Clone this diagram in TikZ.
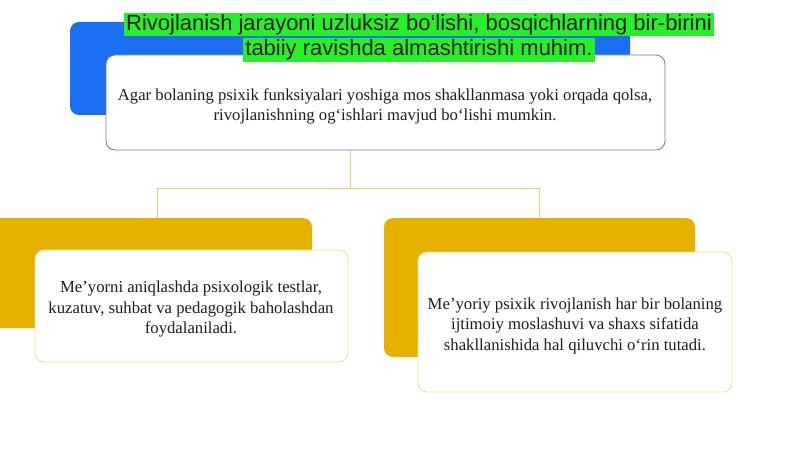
\documentclass[tikz,border=0pt]{standalone}
\usepackage{fontspec}
\setmainfont{Liberation Serif}
\newfontfamily\titlefont{Liberation Sans}
\definecolor{backblue}{RGB}{28,110,242}
\definecolor{backgold}{RGB}{230,176,0}
\definecolor{hlgreen}{RGB}{40,240,40}
\definecolor{topline}{RGB}{95,125,205}
\definecolor{cardline}{RGB}{236,224,135}
\definecolor{linkline}{RGB}{228,210,110}
\definecolor{ink}{RGB}{30,30,30}
\begin{document}
\begin{tikzpicture}[x=1pt,y=-1pt,
  backrect/.style={rectangle,rounded corners=9pt,inner sep=0pt,draw=none},
  card/.style={rectangle,rounded corners=9pt,inner sep=0pt,fill=white,line width=0.8pt},
  cardtext/.style={inner sep=0pt,align=center,text=ink,font=\fontsize{16.7}{20.5}\selectfont},
  titleline/.style={fill=hlgreen,inner xsep=2pt,inner ysep=0pt,text height=17.5pt,text depth=6pt,
    font=\titlefont\fontsize{22}{25}\selectfont,text=ink},
  link/.style={draw=linkline,line width=0.9pt}]
\useasboundingbox (0,0) rectangle (800,449);
\fill[white] (0,0) rectangle (800,449);
% back rectangles
\node[backrect,fill=backblue,minimum width=560pt,minimum height=93pt] (topback) at (350,68.5) {};
\node[backrect,fill=backgold,minimum width=324pt,minimum height=110pt] (lback) at (150,273) {};
\node[backrect,fill=backgold,minimum width=311pt,minimum height=139pt] (rback) at (539.5,287.5) {};
% connectors
\coordinate (split) at (350,188);
\coordinate (ltop) at (157,218);
\draw[link] (350,150) -- (split);
\draw[link] (split) -| (ltop);
\draw[link] (split) -| (rback.north);
% cards
\node[card,draw=topline,minimum width=559pt,minimum height=95pt] (topcard) at (385.5,102.5) {};
\node[cardtext] (toptext) at (385,106.5)
  {Agar bolaning psixik funksiyalari yoshiga mos shakllanmasa yoki orqada qolsa,\\
   rivojlanishning og‘ishlari mavjud bo‘lishi mumkin.};
\node[card,draw=cardline,minimum width=313pt,minimum height=112pt] (lcard) at (191.5,306) {};
\node[cardtext] (ltext) at (191,309.5)
  {Me’yorni aniqlashda psixologik testlar,\\
   kuzatuv, suhbat va pedagogik baholashdan\\
   foydalaniladi.};
\node[card,draw=cardline,minimum width=314pt,minimum height=140pt] (rcard) at (575,322) {};
\node[cardtext] (rtext) at (575,325.5)
  {Me’yoriy psixik rivojlanish har bir bolaning\\
   ijtimoiy moslashuvi va shaxs sifatida\\
   shakllanishida hal qiluvchi o‘rin tutadi.};
% title
\node[titleline] (title1) at (419,24.5) {Rivojlanish jarayoni uzluksiz bo‘lishi, bosqichlarning bir-birini};
\node[titleline] (title2) at (419,50) {tabiiy ravishda almashtirishi muhim.};
\end{tikzpicture}
\end{document}
